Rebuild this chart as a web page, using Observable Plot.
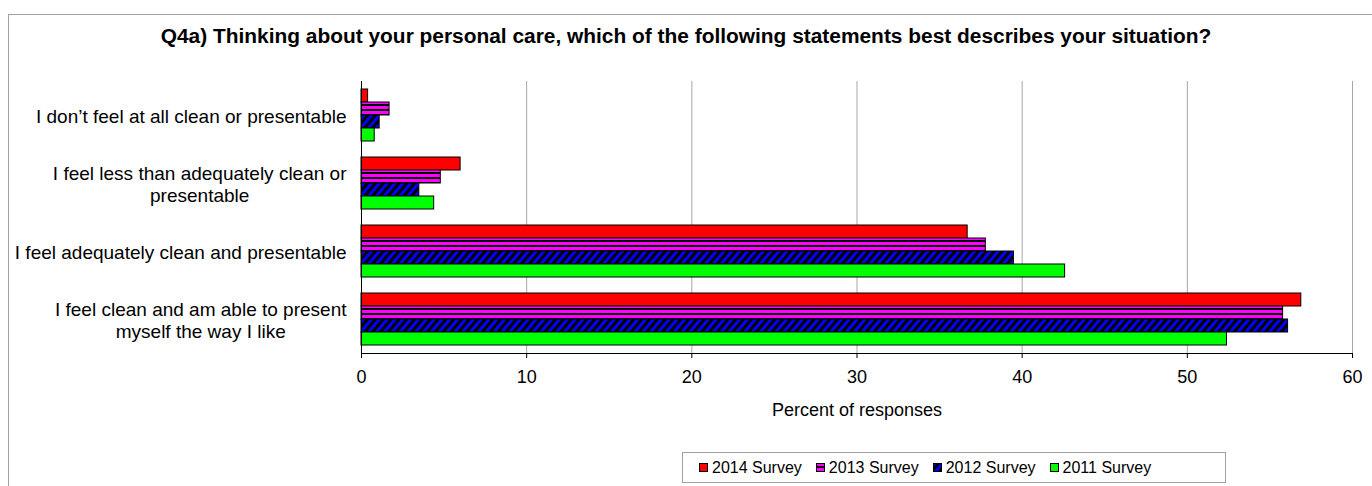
<!DOCTYPE html>
<html><head><meta charset="utf-8">
<script src="https://cdn.jsdelivr.net/npm/d3@7"></script>
<script src="https://cdn.jsdelivr.net/npm/@observablehq/plot@0.6"></script>
<style>
html,body{margin:0;padding:0;background:#fff;width:1372px;height:486px;overflow:hidden;font-family:"Liberation Sans",Arial,sans-serif;}
#outer{position:absolute;left:8px;top:14px;width:1400px;height:600px;border:1px solid #a0a0a0;box-sizing:border-box;}
#title{position:absolute;left:0;top:24px;width:1372px;text-align:center;font-weight:bold;font-size:20.9px;line-height:24px;color:#000;}
#chart{position:absolute;left:0;top:60px;}
#legend{position:absolute;left:682px;top:452px;width:544px;height:31px;border:1px solid #a0a0a0;box-sizing:border-box;display:flex;align-items:center;padding-left:16px;gap:14px;font-size:16px;background:#fff;}
#legend .item{display:flex;align-items:center;gap:4px;white-space:nowrap;}
#legend svg{display:block;}
#defs{position:absolute;width:0;height:0;}
</style></head>
<body>
<svg id="defs" width="0" height="0">
  <defs>
    <pattern id="p2013" patternUnits="userSpaceOnUse" width="5" height="5">
      <rect width="5" height="5" fill="#ff00ff"></rect>
      <rect y="3" width="5" height="2" fill="#000"></rect>
    </pattern>
    <pattern id="p2012" patternUnits="userSpaceOnUse" width="6" height="6" patternTransform="rotate(40)">
      <rect width="6" height="6" fill="#000"></rect>
      <rect width="3" height="6" fill="#0000ff"></rect>
    </pattern>
  </defs>
</svg>
<div id="outer"></div>
<div id="title">Q4a) Thinking about your personal care, which of the following statements best describes your situation?</div>
<div id="chart"></div>
<div id="legend"></div>
<script>
const categories = [
  "I don’t feel at all clean or presentable",
  "I feel less than adequately clean or\npresentable",
  "I feel adequately clean and presentable",
  "I feel clean and am able to present\nmyself the way I like"
];
const series = ["2014 Survey", "2013 Survey", "2012 Survey", "2011 Survey"];
const values2014 = [0.4, 6.0, 36.7, 56.9];
const values2013 = [1.7, 4.8, 37.8, 55.8];
const values2012 = [1.1, 3.5, 39.5, 56.1];
const values2011 = [0.8, 4.4, 42.6, 52.4];
const xTicks = [0, 10, 20, 30, 40, 50, 60];
const seriesFills = ["#ff0000", "url(#p2013)", "url(#p2012)", "#00ff00"];

const allValues = [values2014, values2013, values2012, values2011];
const data = categories.flatMap((c, i) => series.map((s, j) => ({category: c, series: s, value: allValues[j][i], fill: seriesFills[j]})));

const chart = Plot.plot({
  width: 1372,
  height: 370,
  marginLeft: 361,
  marginRight: 20,
  marginTop: 20,
  marginBottom: 76,
  style: {fontFamily: "Liberation Sans, Arial, sans-serif", fontSize: "18px", color: "#000", background: "transparent"},
  x: {domain: [0, 60], label: null},
  fy: {domain: categories, padding: 0, label: null},
  y: {domain: series, paddingInner: 0, paddingOuter: 0.55, axis: null},
  color: {type: "identity"},
  marks: [
    Plot.gridX(xTicks.slice(1), {stroke: "#a6a6a6", strokeOpacity: 1}),
    Plot.barX(data, {x: "value", y: "series", fy: "category", fill: "fill", stroke: "#000", strokeWidth: 1}),
    Plot.ruleX([0], {stroke: "#000"}),
    Plot.frame({anchor: "bottom", facetAnchor: "bottom", stroke: "#000"}),
    Plot.axisX({ticks: xTicks, tickSize: 5, tickPadding: 12, label: null, fontSize: 18}),
    Plot.axisFy({anchor: "left", tickSize: 0, tickPadding: 15, label: null, fontSize: 19, lineHeight: 1.17}),
    Plot.text(["Percent of responses"], {frameAnchor: "bottom", dy: 62, fontSize: 18, facetAnchor: "bottom"})
  ]
});
document.getElementById("chart").appendChild(chart);

// center multi-line category labels like the original
chart.querySelectorAll('g[aria-label="fy-axis tick label"] text').forEach(t => {
  const spans = t.querySelectorAll("tspan");
  if (spans.length > 1) {
    let w = 0;
    spans.forEach(s => { w = Math.max(w, s.getComputedTextLength()); });
    t.setAttribute("text-anchor", "middle");
    spans.forEach(s => s.setAttribute("x", -w / 2));
  }
});

// legend
const legend = d3.select("#legend");
series.forEach((s, j) => {
  const item = legend.append("div").attr("class", "item");
  const sw = item.append("svg").attr("width", 9).attr("height", 9);
  sw.append("rect").attr("x", 0.5).attr("y", 0.5).attr("width", 8).attr("height", 8)
    .attr("fill", seriesFills[j]).attr("stroke", "#000").attr("stroke-width", 1);
  item.append("span").text(s);
});
</script>
</body></html>
